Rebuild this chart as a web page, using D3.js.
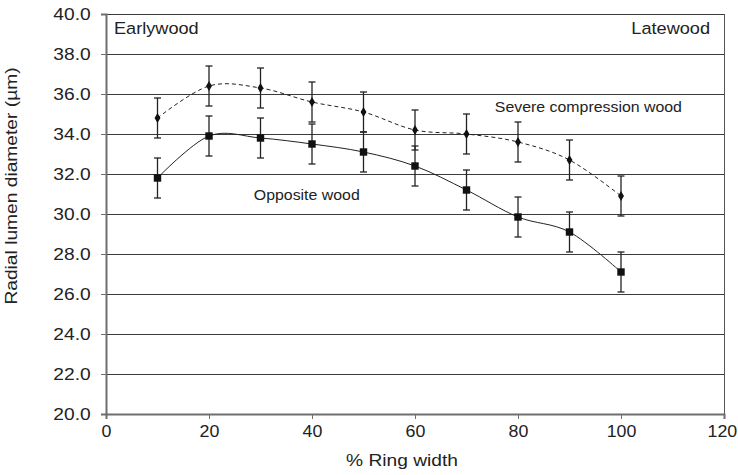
<!DOCTYPE html>
<html>
<head>
<meta charset="utf-8">
<script src="https://cdn.jsdelivr.net/npm/d3@7"></script>
<style>
  body { margin: 0; background: #fff; }
  svg { font-family: "Liberation Sans", Arial, sans-serif; }
</style>
</head>
<body>
<div id="chart"></div>
<script>
// % ring width positions
var ringWidth = [10, 20, 30, 40, 50, 60, 70, 80, 90, 100];
// radial lumen diameter (µm)
var severeMean = [34.8, 36.4, 36.3, 35.6, 35.1, 34.2, 34.0, 33.6, 32.7, 30.9];
var severeErr  = [1.0, 1.0, 1.0, 1.0, 1.0, 1.0, 1.0, 1.0, 1.0, 1.0];
var oppositeMean = [31.8, 33.9, 33.8, 33.5, 33.1, 32.4, 31.2, 29.85, 29.1, 27.1];
var oppositeErr  = [1.0, 1.0, 1.0, 1.0, 1.0, 1.0, 1.0, 1.0, 1.0, 1.0];
var yTicks = [20, 22, 24, 26, 28, 30, 32, 34, 36, 38, 40];
var xTicks = [0, 20, 40, 60, 80, 100, 120];

var margin = {top: 14, right: 14, bottom: 61, left: 106};
var width = 738 - margin.left - margin.right,
    height = 475 - margin.top - margin.bottom;

var svg = d3.select("#chart").append("svg")
    .attr("width", 738)
    .attr("height", 475)
  .append("g")
    .attr("transform", "translate(" + margin.left + "," + margin.top + ")");

var x = d3.scaleLinear().domain([0, 120]).range([0, width]);
var y = d3.scaleLinear().domain([20, 40]).range([height, 0]);

// the original type is a bit wider than Arial, so stretch it horizontally
function label(px, py, str, size, sx, anchor, rot) {
  return svg.append("text")
      .attr("transform", "translate(" + px + "," + py + ")" + (rot ? "rotate(" + rot + ")" : "") + "scale(" + sx + ",1)")
      .attr("text-anchor", anchor || "start")
      .style("font-size", size + "px")
      .attr("fill", "#222")
      .text(str);
}

// horizontal grid lines
svg.selectAll(".grid")
    .data(yTicks.slice(1))
    .enter().append("line")
    .attr("x1", 0).attr("x2", width)
    .attr("y1", function(d) { return Math.round(y(d)) + 0.5; })
    .attr("y2", function(d) { return Math.round(y(d)) + 0.5; })
    .attr("stroke", "#3a3a3a")
    .attr("stroke-width", 1.2);

// right border
svg.append("line")
    .attr("x1", width + 0.5).attr("x2", width + 0.5)
    .attr("y1", 0).attr("y2", height)
    .attr("stroke", "#555");

// axes
var yAxis = d3.axisLeft(y).tickValues(yTicks).tickSize(5)
    .tickFormat(d3.format(".1f"));
var xAxis = d3.axisBottom(x).tickValues(xTicks).tickSize(5).tickPadding(6);

var gy = svg.append("g").call(yAxis);
var gx = svg.append("g").attr("transform", "translate(0," + height + ")").call(xAxis);

[gy, gx].forEach(function(g) {
  g.select(".domain").attr("stroke", "#6e6e6e").attr("stroke-width", 2);
  g.selectAll(".tick line").attr("stroke", "#6e6e6e");
  g.selectAll(".tick text").attr("fill", "#222")
    .style("font-family", "'Liberation Sans', Arial, sans-serif");
});
gy.selectAll(".tick text").style("font-size", "17px")
    .attr("x", -15.3 / 1.13).attr("transform", "scale(1.13,1)");
gx.selectAll(".tick text").style("font-size", "16.5px")
    .attr("transform", "scale(1.08,1)")
    .attr("dx", function(d) { return d === 120 ? -2 : 0; });

// axis titles
label(-89, 172, "Radial lumen diameter (µm)", 17, 1.13, "middle", -90);
label(296, 452, "% Ring width", 17, 1.13, "middle");

// series
var series = [
  {name: "severe", mean: severeMean, err: severeErr, dash: "4,3", symbol: d3.symbolDiamond, size: 30},
  {name: "opposite", mean: oppositeMean, err: oppositeErr, dash: null, symbol: d3.symbolSquare, size: 55}
];

var line = d3.line()
    .x(function(d) { return x(d.x); })
    .y(function(d) { return y(d.y); })
    .curve(d3.curveCardinal.tension(0));

series.forEach(function(s) {
  var pts = ringWidth.map(function(r, i) { return {x: r, y: s.mean[i], e: s.err[i]}; });
  var g = svg.append("g").attr("class", s.name);

  // error bars
  var eb = g.selectAll(".err").data(pts).enter().append("g");
  eb.append("line")
      .attr("x1", function(d) { return x(d.x); }).attr("x2", function(d) { return x(d.x); })
      .attr("y1", function(d) { return y(d.y - d.e); }).attr("y2", function(d) { return y(d.y + d.e); })
      .attr("stroke", "#222").attr("stroke-width", 1.3);
  [-1, 1].forEach(function(sgn) {
    eb.append("line")
        .attr("x1", function(d) { return x(d.x) - 3.5; }).attr("x2", function(d) { return x(d.x) + 3.5; })
        .attr("y1", function(d) { return y(d.y + sgn * d.e); }).attr("y2", function(d) { return y(d.y + sgn * d.e); })
        .attr("stroke", "#222").attr("stroke-width", 1.3);
  });

  g.append("path")
      .datum(pts)
      .attr("d", line)
      .attr("fill", "none")
      .attr("stroke", "#222")
      .attr("stroke-width", 1)
      .attr("stroke-dasharray", s.dash);

  g.selectAll(".pt").data(pts).enter().append("path")
      .attr("transform", function(d) { return "translate(" + x(d.x) + "," + y(d.y) + ")"; })
      .attr("d", d3.symbol().type(s.symbol).size(s.size))
      .attr("fill", "#111");
});

// annotations
label(8, 19.5, "Earlywood", 16.5, 1.1);
label(width - 14, 19.5, "Latewood", 16.5, 1.1, "end");
label(x(75.5), y(35.1), "Severe compression wood", 15, 1.06);
label(x(28.7), y(30.7), "Opposite wood", 15, 1.06);
</script>
</body>
</html>
